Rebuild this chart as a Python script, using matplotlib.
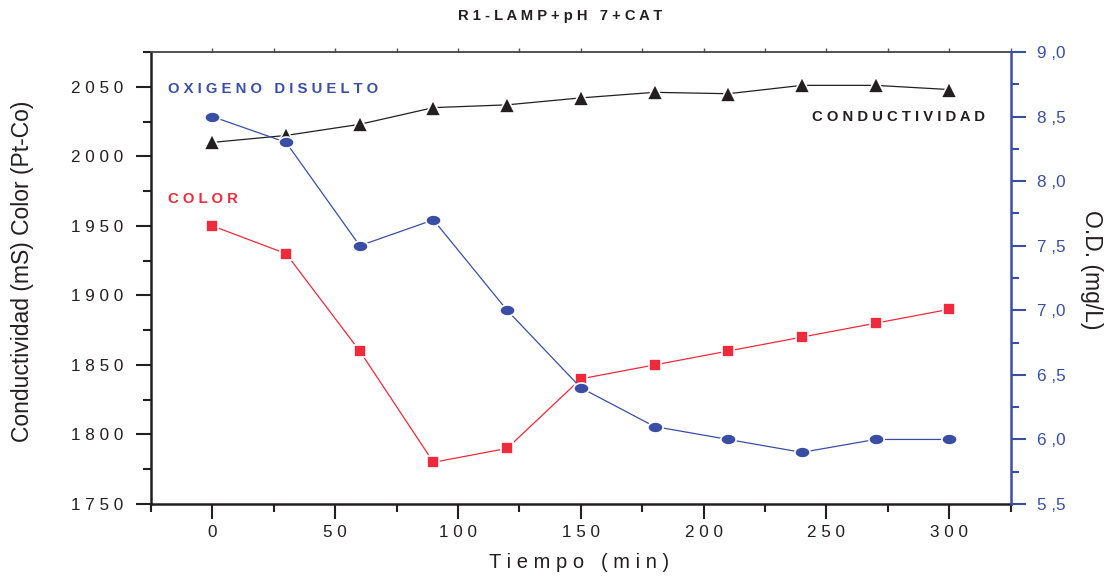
import numpy as np
import matplotlib.pyplot as plt
from matplotlib.path import Path
from matplotlib.ticker import MultipleLocator, FuncFormatter

plt.rcParams['font.family'] = ['Liberation Sans', 'DejaVu Sans']

tiempo = [0, 30, 60, 90, 120, 150, 180, 210, 240, 270, 300]
conductividad = [2010, 2015, 2023, 2035, 2037, 2042, 2046, 2045, 2051, 2051, 2048]
color = [1950, 1930, 1860, 1780, 1790, 1840, 1850, 1860, 1870, 1880, 1890]
oxigeno = [8.5, 8.3, 7.5, 7.7, 7.0, 6.4, 6.1, 6.0, 5.9, 6.0, 6.0]

azul = '#3a4ea6'
rojo = '#ee2a3c'
negro = '#231f20'


def espaciar(s):
    return ' '.join(s)


# marcador eliptico como en el original
t = np.linspace(0, 2*np.pi, 40)
elipse = Path(np.column_stack([np.cos(t), 0.72*np.sin(t)]), closed=True)

fig = plt.figure(figsize=(11.06, 5.79), dpi=100)
ax = fig.add_axes([0.1365, 0.1295, 0.7773, 0.7807])
ax2 = ax.twinx()

ax.plot(tiempo, conductividad, color=negro, lw=0.9, marker='^', ms=11,
        mfc=negro, mec='white', mew=1.2)
ax.plot(tiempo, color, color=rojo, lw=0.9, marker='s', ms=9,
        mfc=rojo, mec='white', mew=1.2)
ax2.plot(tiempo, oxigeno, color=azul, lw=0.9, marker=elipse, ms=11,
         mfc=azul, mec='white', mew=1.2)

ax.set_xlim(-25, 325)
ax.set_ylim(1750, 2075)
ax2.set_ylim(5.5, 9.0)

ax.xaxis.set_major_locator(MultipleLocator(50))
ax.xaxis.set_minor_locator(MultipleLocator(25))
ax.yaxis.set_major_locator(MultipleLocator(50))
ax.yaxis.set_minor_locator(MultipleLocator(25))
ax2.yaxis.set_major_locator(MultipleLocator(0.5))
ax2.yaxis.set_minor_locator(MultipleLocator(0.25))

ax.xaxis.set_major_formatter(FuncFormatter(lambda v, p: espaciar('%d' % v)))
ax.yaxis.set_major_formatter(FuncFormatter(lambda v, p: espaciar('%d' % v)))
ax2.yaxis.set_major_formatter(FuncFormatter(lambda v, p: ('%.1f' % v).replace('.', ' ,')))

ax.tick_params(axis='both', which='major', direction='out', length=11, width=1.5,
               labelsize=12.3, colors=negro)
ax.tick_params(axis='y', which='major', pad=9)
ax.tick_params(axis='x', which='major', pad=4)
ax.tick_params(axis='both', which='minor', direction='out', length=6, width=1.5, colors=negro)
ax2.tick_params(axis='y', which='major', direction='out', length=11, width=1.5,
                labelsize=12.3, colors=azul, pad=8)
ax2.tick_params(axis='y', which='minor', direction='out', length=6, width=1.5, colors=azul)

arriba = ax.secondary_xaxis('top')
arriba.set_xticks(np.arange(0, 326, 25))
arriba.tick_params(direction='out', length=3, width=1, colors='#555555', labeltop=False)
arriba.spines['top'].set_visible(False)

for lado in ['left', 'bottom']:
    ax.spines[lado].set_linewidth(1.8)
    ax.spines[lado].set_color(negro)
ax.spines['top'].set_linewidth(1.3)
ax.spines['top'].set_color('#444444')
ax.spines['right'].set_visible(False)
ax2.spines['left'].set_visible(False)
ax2.spines['top'].set_visible(False)
ax2.spines['bottom'].set_visible(False)
ax2.spines['right'].set_color(azul)
ax2.spines['right'].set_linewidth(1.8)

# titulos de ejes
fig.text(0.5235, 0.029, 'T i e m p o   ( m i n )', fontsize=14.5,
         ha='center', va='center', color=negro)
fig.text(0.0199, 0.532, 'Conductividad (mS) Color (Pt-Co)', fontsize=16.5,
         rotation=90, ha='center', va='center', color=negro)
fig.text(0.987, 0.534, 'O.D. (mg/L)', fontsize=16.5,
         rotation=270, ha='center', va='center', color=negro)

ax.text(0.02, 0.918, espaciar('OXIGENO DISUELTO'), transform=ax.transAxes,
        color=azul, fontsize=10.7, fontweight='bold', va='center', ha='left')
ax.text(0.02, 0.675, espaciar('COLOR'), transform=ax.transAxes,
        color=rojo, fontsize=10.7, fontweight='bold', va='center', ha='left')
ax.text(0.97, 0.856, espaciar('CONDUCTIVIDAD'), transform=ax.transAxes,
        color=negro, fontsize=10.7, fontweight='bold', va='center', ha='right')

fig.text(0.506, 0.973, espaciar('R1-LAMP+pH 7+CAT'), fontsize=10.6, fontweight='bold',
         ha='center', va='center', color=negro)

fig.savefig('out.png', dpi=100)
